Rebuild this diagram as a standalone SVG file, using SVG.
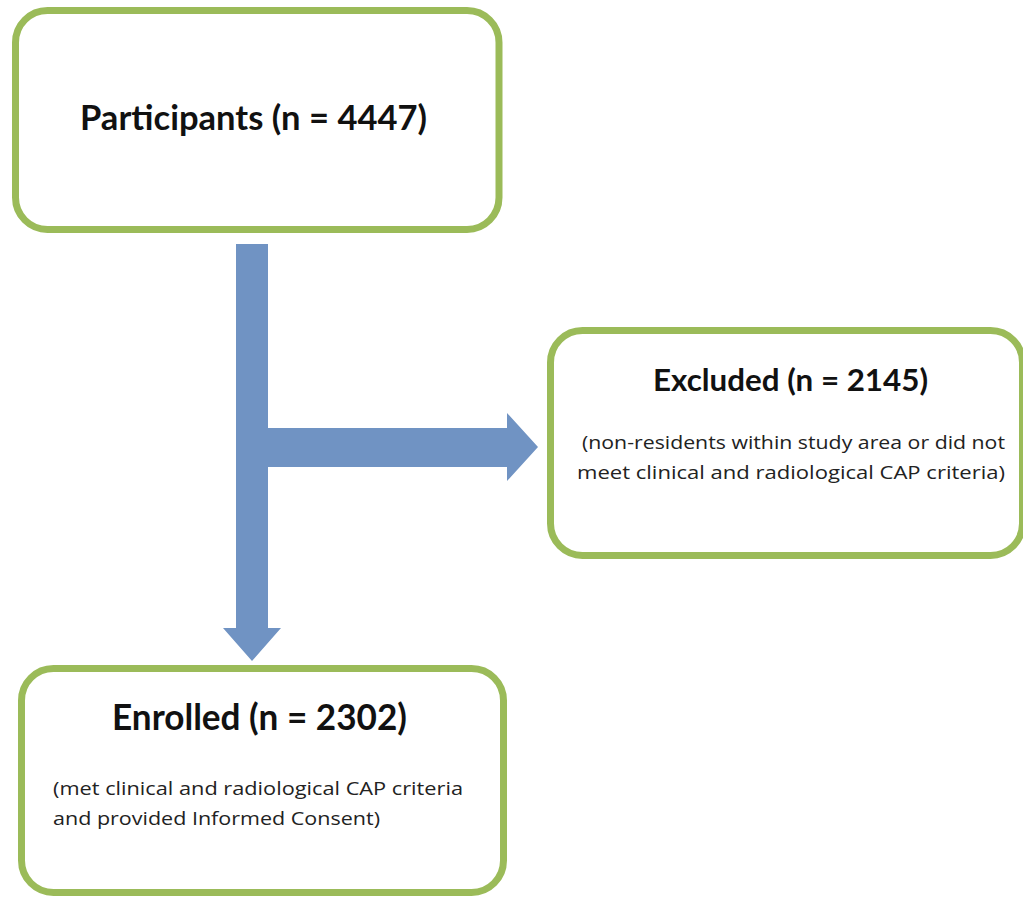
<svg xmlns="http://www.w3.org/2000/svg" width="1023" height="898" viewBox="0 0 1023 898">
<style>
.box{fill:#ffffff;stroke:#9BBB59;stroke-width:7}
.title{font-family:Lato,"Open Sans","Liberation Sans",sans-serif;font-weight:bold;fill:#111111;text-anchor:start}
.sub{font-family:"Open Sans",Lato,"Liberation Sans",sans-serif;fill:#222222}
.arrow{fill:#7093C3}
</style>
<rect x="0" y="0" width="1023" height="898" fill="#ffffff"/>
<g id="connectors">
<polygon class="arrow" points="236,244 268,244 268,428 507,428 507,413 538,447 507,481 507,467 268,467 268,628 281,628 252,661 223,628 236,628"/>
</g>
<g id="participants">
<rect class="box" x="15.5" y="10.5" width="483.5" height="219" rx="32"/>
<text class="title" x="80" y="130" font-size="34" textLength="347" lengthAdjust="spacingAndGlyphs">Participants (n = 4447)</text>
</g>
<g id="excluded">
<rect class="box" x="550.5" y="330.5" width="472" height="225" rx="32"/>
<text class="title" x="653" y="391" font-size="30" textLength="275" lengthAdjust="spacingAndGlyphs">Excluded (n = 2145)</text>
<text class="sub" x="582" y="449" font-size="18" textLength="423" lengthAdjust="spacingAndGlyphs">(non-residents within study area or did not</text>
<text class="sub" x="577" y="479" font-size="18" textLength="428" lengthAdjust="spacingAndGlyphs">meet clinical and radiological CAP criteria)</text>
</g>
<g id="enrolled">
<rect class="box" x="21.5" y="668.5" width="482" height="224" rx="32"/>
<text class="title" x="112" y="730" font-size="36" textLength="295" lengthAdjust="spacingAndGlyphs">Enrolled (n = 2302)</text>
<text class="sub" x="53" y="795" font-size="19" textLength="410" lengthAdjust="spacingAndGlyphs">(met clinical and radiological CAP criteria</text>
<text class="sub" x="53" y="825" font-size="19" textLength="327" lengthAdjust="spacingAndGlyphs">and provided Informed Consent)</text>
</g>
</svg>
